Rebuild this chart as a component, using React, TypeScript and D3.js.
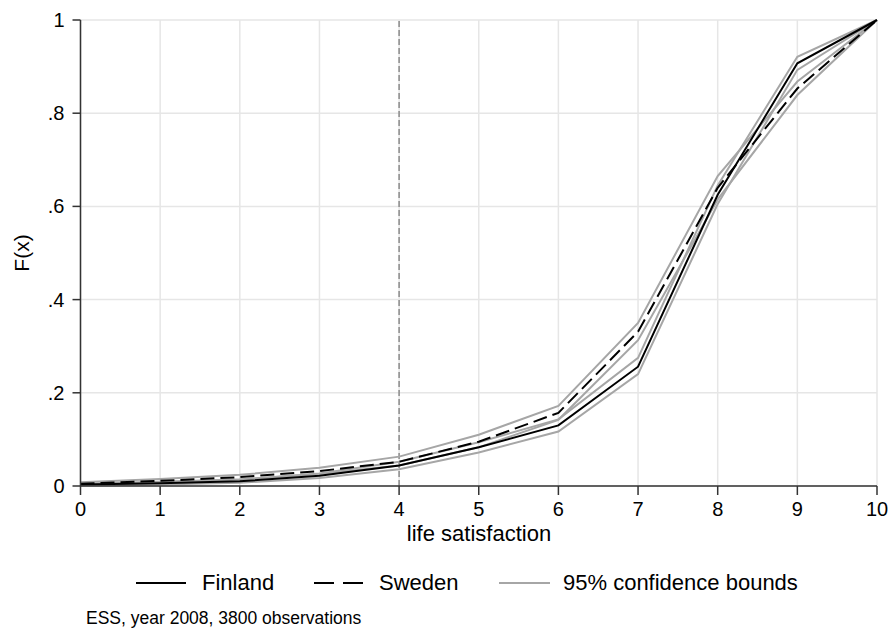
import React from 'react';
import * as d3 from 'd3';

// life satisfaction scores 0..10, cumulative shares
const scores = [0, 1, 2, 3, 4, 5, 6, 7, 8, 9, 10];
const finland = [0.003, 0.006, 0.01, 0.022, 0.044, 0.083, 0.13, 0.256, 0.625, 0.907, 1];
const finlandLo = [0.001, 0.003, 0.007, 0.017, 0.036, 0.072, 0.117, 0.24, 0.605, 0.893, 1];
const finlandHi = [0.005, 0.009, 0.014, 0.027, 0.052, 0.094, 0.143, 0.275, 0.645, 0.921, 1];
const sweden = [0.005, 0.011, 0.019, 0.032, 0.052, 0.095, 0.157, 0.331, 0.64, 0.853, 1];
const swedenLo = [0.003, 0.008, 0.014, 0.026, 0.044, 0.083, 0.142, 0.313, 0.615, 0.839, 1];
const swedenHi = [0.008, 0.015, 0.024, 0.039, 0.063, 0.11, 0.172, 0.35, 0.665, 0.868, 1];

const yTicks = [0, 0.2, 0.4, 0.6, 0.8, 1];
const yTickLabels = ['0', '.2', '.4', '.6', '.8', '1'];
const refScore = 4;

const FONT = '"Liberation Sans", Arial, Helvetica, sans-serif';

const App = () => {
  const width = 893;
  const height = 632;
  const x = d3.scaleLinear().domain([0, 10]).range([80.5, 877]);
  const y = d3.scaleLinear().domain([0, 1]).range([486, 20]);

  const line = d3
    .line<number>()
    .x((_, i) => x(scores[i]))
    .y((d) => y(d));

  const bounds = [finlandLo, finlandHi, swedenLo, swedenHi];

  return (
    <svg width={width} height={height} style={{ display: 'block', position: 'absolute', left: 0, top: 0 }}>
      <rect width={width} height={height} fill="#fff" />

      {/* grid */}
      {scores.map((s) => (
        <line key={'gx' + s} x1={x(s)} x2={x(s)} y1={y(0)} y2={y(1)} stroke="#e6e6e6" strokeWidth={1.5} />
      ))}
      {yTicks.map((t) => (
        <line key={'gy' + t} x1={x(0)} x2={x(10)} y1={y(t)} y2={y(t)} stroke="#e6e6e6" strokeWidth={1.5} />
      ))}

      {/* reference line */}
      <line x1={x(refScore)} x2={x(refScore)} y1={y(0)} y2={y(1)} stroke="#8a8a8a" strokeWidth={1.5} strokeDasharray="6,3" />

      {/* confidence bounds */}
      {bounds.map((b, i) => (
        <path key={'b' + i} d={line(b) || ''} fill="none" stroke="#a6a6a6" strokeWidth={2} />
      ))}
      <path d={line(sweden) || ''} fill="none" stroke="#000" strokeWidth={2} strokeDasharray="14,6" />
      <path d={line(finland) || ''} fill="none" stroke="#000" strokeWidth={2} />

      {/* axes */}
      <line x1={x(0)} x2={x(0)} y1={y(0)} y2={y(1)} stroke="#333" strokeWidth={1.5} />
      <line x1={x(0)} x2={x(10)} y1={y(0)} y2={y(0)} stroke="#333" strokeWidth={1.5} />
      {yTicks.map((t, i) => (
        <g key={'yt' + t}>
          <line x1={x(0) - 8} x2={x(0)} y1={y(t)} y2={y(t)} stroke="#333" strokeWidth={1.5} />
          <text x={x(0) - 16} y={y(t)} dy="0.35em" textAnchor="end" fontFamily={FONT} fontSize={20} fill="#000">
            {yTickLabels[i]}
          </text>
        </g>
      ))}
      {scores.map((s) => (
        <g key={'xt' + s}>
          <line x1={x(s)} x2={x(s)} y1={y(0)} y2={y(0) + 9} stroke="#333" strokeWidth={1.5} />
          <text x={x(s)} y={516} textAnchor="middle" fontFamily={FONT} fontSize={20} fill="#000">
            {s}
          </text>
        </g>
      ))}

      {/* axis titles */}
      <text x={479} y={541} textAnchor="middle" fontFamily={FONT} fontSize={22} fill="#000">
        life satisfaction
      </text>
      <text transform="translate(29,253) rotate(-90)" textAnchor="middle" fontFamily={FONT} fontSize={21} fill="#000">
        F(x)
      </text>

      {/* legend */}
      <g fontFamily={FONT} fontSize={22} fill="#000">
        <line x1={136} x2={186} y1={583} y2={583} stroke="#000" strokeWidth={2} />
        <text x={202} y={590}>Finland</text>
        <line x1={314} x2={365} y1={583} y2={583} stroke="#000" strokeWidth={2} strokeDasharray="20,9" />
        <text x={379} y={590}>Sweden</text>
        <line x1={499} x2={550} y1={583} y2={583} stroke="#a6a6a6" strokeWidth={2} />
        <text x={563} y={590}>95% confidence bounds</text>
      </g>

      {/* note */}
      <text x={86} y={624} fontFamily={FONT} fontSize={17.5} fill="#000">
        ESS, year 2008, 3800 observations
      </text>
    </svg>
  );
};

export default App;
